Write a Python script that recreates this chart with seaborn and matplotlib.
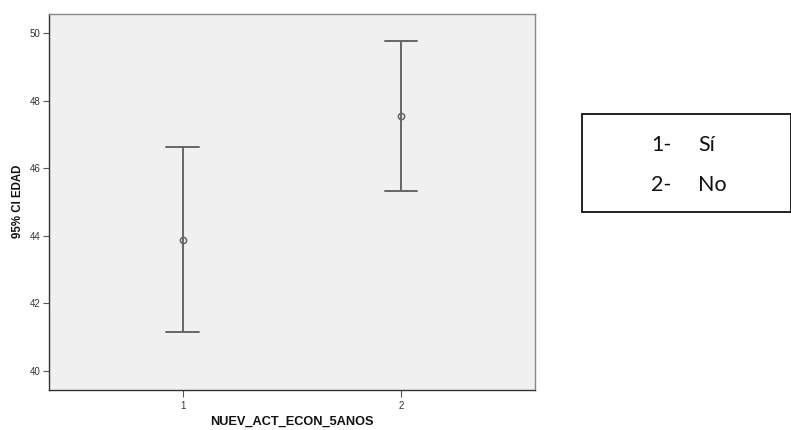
import matplotlib
matplotlib.use("Agg")
import matplotlib.pyplot as plt
import seaborn as sns
import pandas as pd

# Group codes and the 95% confidence interval of EDAD per group
groups = ["1", "2"]
ci_lower = [41.16, 45.33]
means = [43.89, 47.55]
ci_upper = [46.63, 49.78]

legend_codes = ["1-", "2-"]
legend_names = ["Sí", "No"]

rows = []
for g, lo, m, hi in zip(groups, ci_lower, means, ci_upper):
    for v in (lo, m, hi):
        rows.append({"NUEV_ACT_ECON_5ANOS": g, "EDAD": v})
df = pd.DataFrame(rows)

sns.set_style("white")
plt.rcParams["font.family"] = ["Liberation Sans", "DejaVu Sans"]

fig = plt.figure(figsize=(7.91, 4.30), dpi=100)
ax_h = (390 - 13.5) / 430
ax = fig.add_axes([49 / 791, 1 - 390 / 430, 486 / 791, ax_h])
ax.set_facecolor("#f0f0f0")

line_col = "#666666"
# median of (lower, mean, upper) is the mean; the full range is the CI
sns.pointplot(
    data=df, x="NUEV_ACT_ECON_5ANOS", y="EDAD", order=groups,
    estimator="median", errorbar=("pi", 100), capsize=0.15,
    linestyle="none", color=line_col, markers="o", markersize=4.5,
    markerfacecolor="none", markeredgewidth=1.1, err_kws={"linewidth": 1.4},
    ax=ax,
)

ax.set_xlim(-0.612, 1.613)
ax.set_ylim(39.44, 50.58)
ax.set_yticks([40, 42, 44, 46, 48, 50])
ax.set_xticks([0, 1])
ax.set_xticklabels(groups)

ax.tick_params(axis="both", which="major", direction="out", length=4, width=0.8,
               color="#555555", labelsize=7, labelcolor="#333333", pad=2,
               left=True, bottom=True)
ax.tick_params(axis="x", length=5, pad=3)

for side, spine in ax.spines.items():
    spine.set_visible(True)
    spine.set_linewidth(1.0)
    spine.set_color("#333333" if side in ("left", "bottom") else "#888888")

ax.set_xlabel("NUEV_ACT_ECON_5ANOS", fontsize=9.2, fontweight="bold",
              va="center", color="#111111")
ax.xaxis.set_label_coords(0.5, -(422 - 390) / (ax_h * 430))
ax.set_ylabel("95% CI EDAD", fontsize=8.3, fontweight="bold", va="center",
              color="#111111")
ax.yaxis.set_label_coords(-(49 - 18.5) / 486, 1 - (201 - 13.5) / (ax_h * 430))

# Code key box on the right
box = plt.Rectangle((582 / 791, 1 - 212 / 430), 209 / 791, 98 / 430,
                    transform=fig.transFigure, fill=False,
                    edgecolor="#111111", linewidth=1.3)
fig.add_artist(box)
for i, (c, n) in enumerate(zip(legend_codes, legend_names)):
    y = 1 - (145 + 40 * i) / 430
    fig.text(651 / 791, y, c, fontsize=15.5, family=["Lato", "DejaVu Sans"],
             va="center", ha="left", color="#111111")
    fig.text(698 / 791, y, n, fontsize=15.5, family=["Lato", "DejaVu Sans"],
             va="center", ha="left", color="#111111")

fig.savefig("out.png", dpi=100)
